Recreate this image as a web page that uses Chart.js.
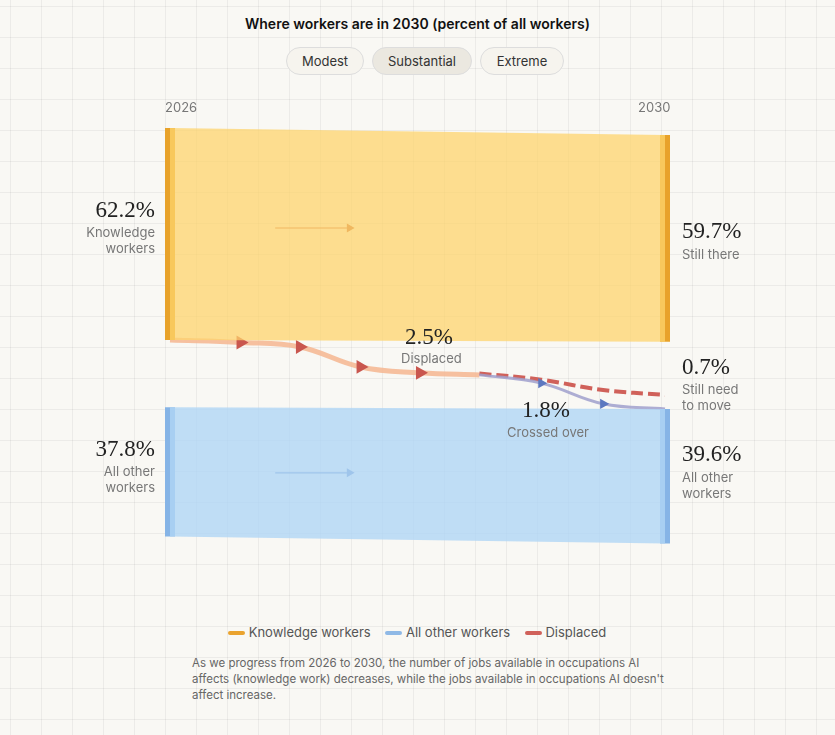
<!DOCTYPE html>
<html><head><meta charset="utf-8">
<script src="https://cdn.jsdelivr.net/npm/chart.js@4.4.1/dist/chart.umd.min.js"></script>
<style>
body{margin:0;width:835px;height:735px;background:#f9f8f4;font-family:Inter,"Noto Sans",sans-serif;position:relative;overflow:hidden;
background-image:linear-gradient(rgba(0,0,0,0.05) 1px,transparent 1px),linear-gradient(90deg,rgba(0,0,0,0.05) 1px,transparent 1px);background-size:31px 31px;background-position:10px 6px}
.t{position:absolute;white-space:nowrap}
.big{font-family:"Liberation Serif","DejaVu Serif",serif;font-size:23px;color:#222}
.sm{font-size:13px;color:#777;line-height:16px}
.btn{position:absolute;top:47px;height:26px;border:1px solid #ddd;border-radius:14px;font-size:13px;color:#333;line-height:26px;text-align:center;background:#f6f4ee}
#c{position:absolute;left:0;top:0}
</style></head><body>
<div class="t" style="left:0;width:835px;text-align:center;top:15px;font-size:14px;font-weight:600;color:#111">Where workers are in 2030 (percent of all workers)</div>
<div class="btn" style="left:286px;width:76px">Modest</div>
<div class="btn" style="left:372px;width:98px;background:#ebe8e0">Substantial</div>
<div class="btn" style="left:480px;width:82px">Extreme</div>
<canvas id="c" width="835" height="600"></canvas>
<div class="t sm" style="left:165px;top:99px">2026</div>
<div class="t sm" style="left:638px;top:99px">2030</div>
<div class="t big" style="right:680px;top:197px">62.2%</div>
<div class="t sm" style="right:680px;top:224px;text-align:right">Knowledge<br>workers</div>
<div class="t big" style="left:682px;top:218px">59.7%</div>
<div class="t sm" style="left:682px;top:246px">Still there</div>
<div class="t big" style="left:405px;top:324px">2.5%</div>
<div class="t sm" style="left:401px;top:350px">Displaced</div>
<div class="t big" style="left:682px;top:354px">0.7%</div>
<div class="t sm" style="left:682px;top:381px">Still need<br>to move</div>
<div class="t big" style="left:522px;top:397px">1.8%</div>
<div class="t sm" style="left:507px;top:424px">Crossed over</div>
<div class="t big" style="right:680px;top:436px">37.8%</div>
<div class="t sm" style="right:680px;top:463px;text-align:right">All other<br>workers</div>
<div class="t big" style="left:682px;top:441px">39.6%</div>
<div class="t sm" style="left:682px;top:469px">All other<br>workers</div>
<div class="t" style="top:624px;left:228px;font-size:13px;color:#555">
<span style="display:inline-block;width:17px;height:4px;background:#eaa32e;vertical-align:middle;border-radius:2px"></span> Knowledge workers &nbsp;&nbsp;
<span style="display:inline-block;width:17px;height:4px;background:#8fb9e6;vertical-align:middle;border-radius:2px"></span> All other workers &nbsp;&nbsp;
<span style="display:inline-block;width:17px;height:4px;background:#d0615a;vertical-align:middle;border-radius:2px"></span> Displaced</div>
<div class="t" style="left:192px;top:655px;width:480px;white-space:normal;font-size:11.5px;color:#666;line-height:16px">As we progress from 2026 to 2030, the number of jobs available in occupations AI affects (knowledge work) decreases, while the jobs available in occupations AI doesn't affect increase.</div>
<script>
const years=[2026,2030];
const knowTop=[0,2], knowBottom=[61.5,62];
const otherTop=[81,81.5], otherBottom=[118.5,120.5];
const dispX=[2026,2026.57,2027.05,2027.54,2028.02,2028.5];
const dispY=[61.5,62.2,63.5,69.3,71,71.6];
const stillX=[2028.5,2029,2029.5,2030];
const stillY=[71.2,73,76,77.4];
const crossX=[2028.5,2029,2029.5,2030];
const crossY=[71.6,74,80,81.5];
const pts=(xs,ys)=>xs.map((x,i)=>({x:x,y:ys[i]}));
const arrow=(y,c)=>({data:[{x:2026.85,y:y},{x:2027.45,y:y}],borderColor:c,borderWidth:1.2,pointRadius:[0,4],pointStyle:'triangle',rotation:90,pointBackgroundColor:c,pointBorderColor:c});
const edge=(x,a,b,c)=>({data:[{x:x,y:a},{x:x,y:b}],borderColor:c,borderWidth:10,pointRadius:0,clip:false});
new Chart(document.getElementById('c'),{type:'line',data:{datasets:[
{data:pts(years,knowTop),borderWidth:0,pointRadius:0,fill:false},
{data:pts(years,knowBottom),borderWidth:0,pointRadius:0,fill:'-1',backgroundColor:'rgba(253,212,110,0.75)'},
{data:pts(years,otherTop),borderWidth:0,pointRadius:0,fill:false},
{data:pts(years,otherBottom),borderWidth:0,pointRadius:0,fill:'-1',backgroundColor:'rgba(176,214,245,0.8)'},
edge(2026,knowTop[0],knowBottom[0],'#e8a22a'),
edge(2030,knowTop[1],knowBottom[1],'#e8a22a'),
edge(2026,otherTop[0],otherBottom[0],'#86b4e6'),
edge(2030,otherTop[1],otherBottom[1],'#86b4e6'),
{data:pts(crossX,crossY),borderColor:'rgba(160,160,205,0.85)',borderWidth:3,tension:0.4,pointRadius:[0,3,3,0],pointStyle:'triangle',rotation:90,pointBackgroundColor:'#5d78c0',pointBorderColor:'#5d78c0',clip:false},
{data:pts(stillX,stillY),borderColor:'#d0615a',borderWidth:4,borderDash:[12,5],tension:0.4,pointRadius:0,clip:false},
{data:pts(dispX,dispY),borderColor:'rgba(245,185,150,0.9)',borderWidth:5,tension:0.4,pointRadius:[0,3,3,3,3,0],pointStyle:'triangle',rotation:90,pointBackgroundColor:'#c9564e',pointBorderColor:'#c9564e',clip:false},
arrow(29,'#c8643a'),arrow(100,'#5b82c4')
]},options:{responsive:false,animation:false,devicePixelRatio:1,
layout:{padding:{left:170,right:170,top:128,bottom:41}},
plugins:{legend:{display:false},tooltip:{enabled:false}},
scales:{x:{type:'linear',min:2026,max:2030,display:false},y:{min:0,max:125,reverse:true,display:false}}}});
</script></body></html>
